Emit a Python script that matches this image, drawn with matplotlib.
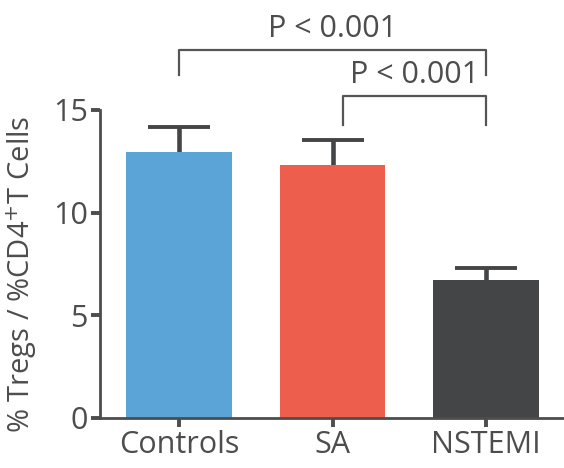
import matplotlib.pyplot as plt

groups = ["Controls", "SA", "NSTEMI"]
means = [12.95, 12.32, 6.72]
errors = [1.22, 1.22, 0.58]
colors = ["#5ba4d8", "#ee5e4d", "#444547"]

# significance brackets: (left group idx, right group idx, bar height, leg bottom, label)
brackets = [(0.0, 2.0, 17.92, 16.7, "P < 0.001"),
            (1.07, 2.0, 15.68, 14.27, "P < 0.001")]

grey = "#4d4d4d"
plt.rcParams['font.family'] = ['Open Sans', 'DejaVu Sans']

fig = plt.figure(figsize=(5.64, 4.68), dpi=100)
ax = fig.add_axes([0.177, 0.107, 0.821, 0.658])

x = list(range(len(groups)))
tops = [m + e for m, e in zip(means, errors)]
ax.bar(x, means, width=0.69, color=colors, zorder=2)
# upper-only error bars: stem + cap
ax.vlines(x, means, tops, color="#444547", lw=3.3, zorder=1)
ax.plot(x, tops, ls='none', marker='_', ms=45, mew=2.8, color="#444547", zorder=1)

ax.set_xlim(-0.515, 2.5)
ax.set_ylim(0, 15)
ax.set_yticks([0, 5, 10, 15])
ax.set_xticks(x)
ax.set_xticklabels(groups)
ax.set_ylabel("% Tregs / %CD4$^{+}$T Cells", fontsize=21, color=grey)
ax.yaxis.set_label_coords(-0.132, 0.465)

for s in ["top", "right"]:
    ax.spines[s].set_visible(False)
for s in ["left", "bottom"]:
    ax.spines[s].set_linewidth(2)
    ax.spines[s].set_color(grey)
ax.tick_params(width=2.8, length=6.5, color=grey, labelcolor=grey, labelsize=22, pad=2)

for x0, x1, yb, yl, lab in brackets:
    ax.plot([x0, x0, x1, x1], [yl, yb, yb, yl], color="#555555", lw=1.6,
            clip_on=False)
    ax.text((x0 + x1) / 2, yb + 0.3, lab, ha='center', va='bottom',
            fontsize=22, color=grey)

fig.savefig("out.png", dpi=100)
